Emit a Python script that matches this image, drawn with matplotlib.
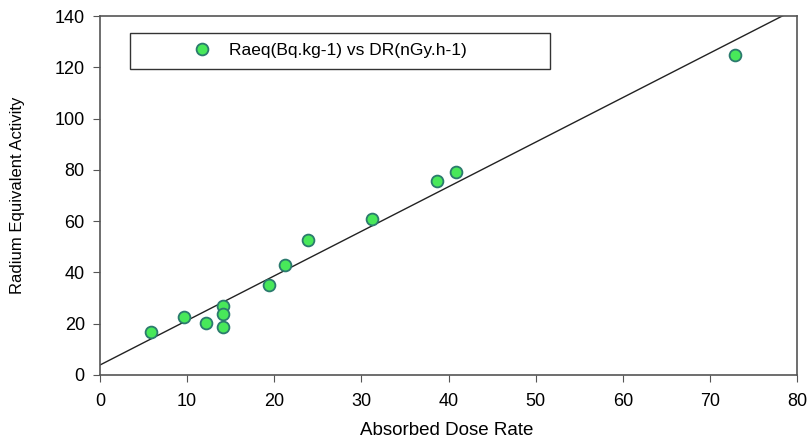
import matplotlib.pyplot as plt
import numpy as np

plt.rcParams['font.family'] = ['Liberation Sans', 'DejaVu Sans']

# absorbed dose rate (nGy/h) and radium equivalent activity (Bq/kg)
dose_rate = np.array([5.8, 9.6, 12.2, 14.1, 14.1, 14.1, 19.4, 21.2, 23.9, 31.2, 38.7, 40.8, 72.9])
ra_eq = np.array([16.8, 22.6, 20.3, 26.9, 23.8, 18.8, 35.1, 42.9, 52.7, 60.8, 75.7, 79.2, 124.6])

# fitted line as drawn in the figure
fit_slope = 1.738
fit_intercept = 3.9

fig = plt.figure(figsize=(8.10, 4.42), dpi=100)
ax = fig.add_axes([0.1235, 0.1516, 0.8605, 0.8122])

xx = np.array([0, 80])
ax.plot(xx, fit_intercept + fit_slope * xx, color='#222222', lw=1.0)
ax.plot(dose_rate, ra_eq, 'o', ms=8.5, mfc='#48e85a', mec='#2b7a6e', mew=1.3,
        label="Raeq(Bq.kg-1) vs DR(nGy.h-1)")

ax.set_xlim(0, 80)
ax.set_ylim(0, 140)
ax.set_xticks(np.arange(0, 81, 10))
ax.set_yticks(np.arange(0, 141, 20))
ax.tick_params(direction='out', length=5, labelsize=13, color='#555555')
ax.tick_params(axis='x', pad=8)
ax.tick_params(axis='y', pad=6)
for s in ax.spines.values():
    s.set_color('#555555')
    s.set_linewidth(1.2)

ax.set_xlabel("Absorbed Dose Rate", fontsize=13.5)
ax.set_ylabel("Radium Equivalent Activity", fontsize=12)
ax.xaxis.set_label_coords(0.497, -0.13)
ax.yaxis.set_label_coords(-0.108, 0.5)

leg = ax.legend(loc='upper left', bbox_to_anchor=(0.043, 0.85, 0.603, 0.103),
                mode='expand', borderaxespad=0, fancybox=False, framealpha=1,
                edgecolor='#333333', fontsize=12.5, numpoints=1,
                handlelength=7.1, handletextpad=-2.0, borderpad=0.6)
leg.get_frame().set_linewidth(1.0)

plt.savefig('out.png', dpi=100)
